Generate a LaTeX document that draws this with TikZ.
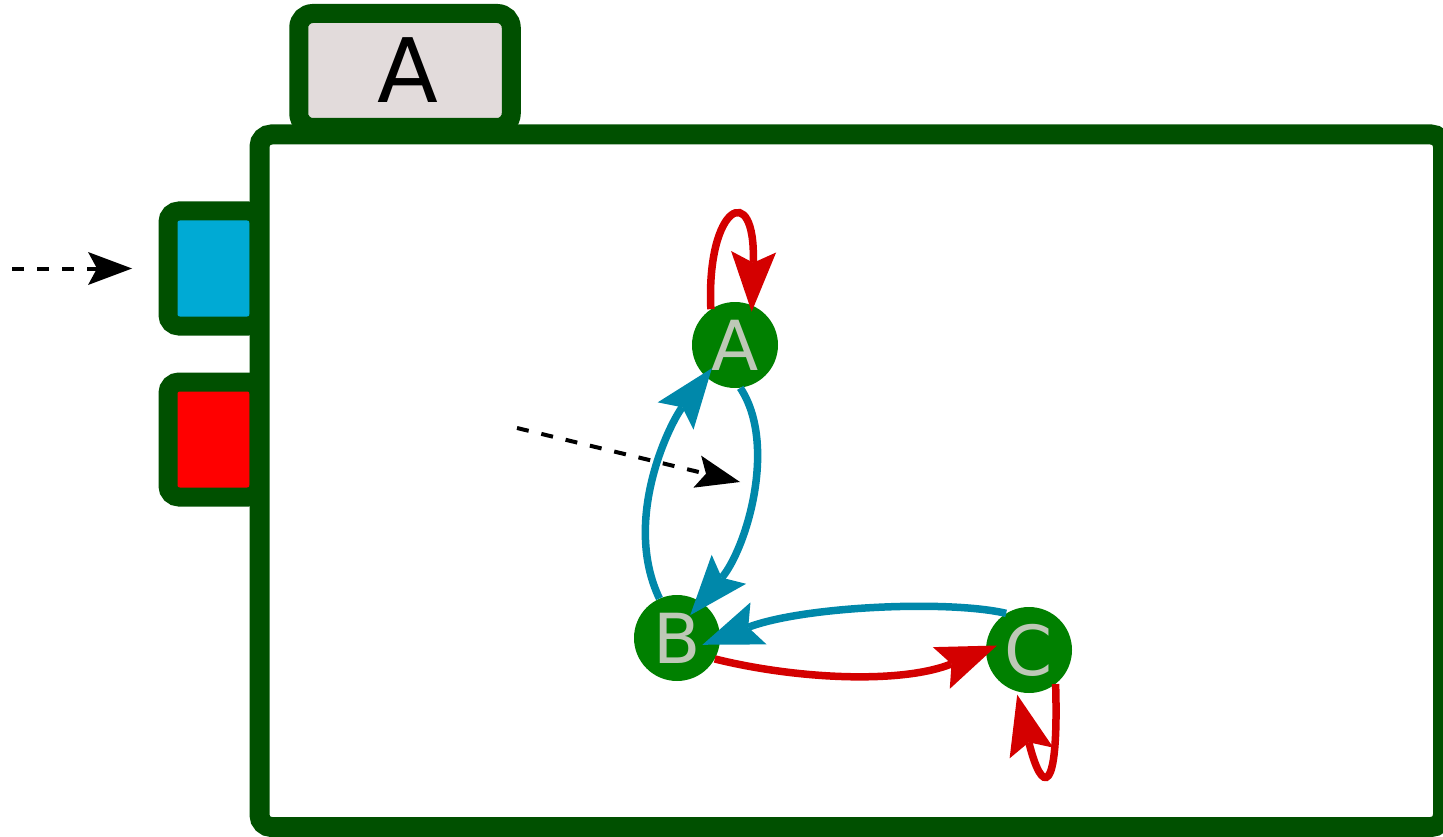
\documentclass[tikz,border=0pt]{standalone}
\usepackage{fontspec}
\setmainfont{DejaVu Sans}
\usetikzlibrary{arrows.meta}

\definecolor{framegreen}{RGB}{0,80,0}
\definecolor{tabfill}{RGB}{226,219,219}
\definecolor{portblue}{RGB}{0,170,212}
\definecolor{portred}{RGB}{255,0,0}
\definecolor{stategreen}{RGB}{0,128,0}
\definecolor{statetext}{RGB}{190,200,183}
\definecolor{trred}{RGB}{212,0,0}
\definecolor{trblue}{RGB}{0,136,170}

\begin{document}
\begin{tikzpicture}[x=1pt,y=-1pt,
  tabbox/.style={rectangle, draw=framegreen, fill=tabfill, line width=19pt,
    rounded corners=14pt, minimum width=212.5pt, minimum height=114pt,
    inner sep=0pt, font=\fontsize{89}{89}\selectfont},
  portbox/.style={rectangle, draw=framegreen, line width=19pt,
    rounded corners=11pt, minimum width=91pt, minimum height=115pt, inner sep=0pt},
  framebox/.style={rectangle, draw=framegreen, fill=white, line width=20pt,
    rounded corners=12pt, inner sep=0pt},
  state/.style={circle, fill=stategreen, minimum size=86pt, inner sep=0pt,
    text=statetext, font=\fontsize{69}{69}\selectfont},
  bigtip/.style={-{Stealth[length=60pt,width=45pt,inset=11pt,line width=0pt]}},
  redtr/.style={draw=trred, line width=7.5pt, bigtip},
  bluetr/.style={draw=trblue, line width=7.5pt, bigtip},
  hint/.style={draw=black, line width=4pt, dash pattern=on 12pt off 13pt,
    -{Stealth[length=44pt,width=33pt,inset=9pt,line width=0pt]}}
]
\useasboundingbox (0,0) rectangle (1443,837);

% name tab, ports and the state machine frame
\node[tabbox] (tab) at (405,70.5) {\hspace{6pt}A};
\node[portbox, fill=portblue] (inport) at (213.5,268.5) {};
\node[portbox, fill=portred] (outport) at (213.5,439.5) {};
\node[framebox, minimum width=1183.5pt, minimum height=692.5pt] (frame) at (851.25,480.75) {};

% states
\node[state] (A) at (735,345) {A};
\node[state] (B) at (677,638) {B};
\node[state] (C) at (1029,650) {C};

% transitions
\draw[redtr, shorten >=-6.5pt] (A.124) .. controls (706,205) and (756,178) .. (A.67);
\draw[bluetr, shorten >=-10.5pt] (B.114) .. controls (622,520) and (669.5,424) .. (A.227);
\draw[bluetr, shorten >=-17pt] (A.277) .. controls (778,445) and (746,549) .. (B.56);
\draw[bluetr, shorten >=-19pt] (C.122) .. controls (950,600) and (804,606) .. (B.0);
\draw[redtr, shorten >=-12pt] (B.-29) .. controls (800,680) and (903,683.5) .. (C.180);
\draw[redtr, shorten >=3.5pt] (C.-52) .. controls (1059,797) and (1042,796) .. (C.253);

% dashed hints
\coordinate (insrc) at (12,268.5);
\draw[hint] (insrc) -- ([xshift=-26.5pt]inport.west);
\coordinate (initsrc) at (517,428);
\coordinate (initdst) at (740,482);
\draw[hint] (initsrc) -- (initdst);
\end{tikzpicture}
\end{document}
